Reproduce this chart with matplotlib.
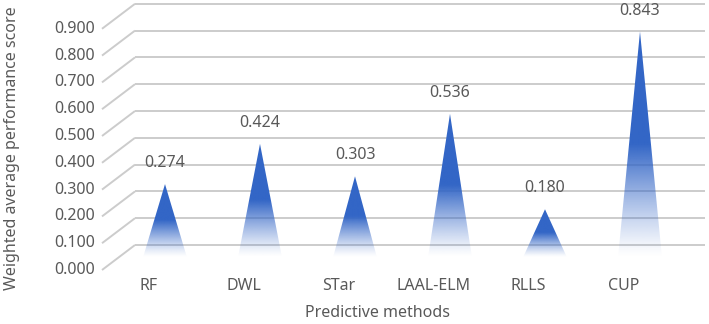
import numpy as np
import matplotlib
matplotlib.use("Agg")
import matplotlib.pyplot as plt
from matplotlib.patches import Polygon

# ---- data ----
categories = ["RF", "DWL", "STar", "LAAL-ELM", "RLLS", "CUP"]
values = [0.274, 0.424, 0.303, 0.536, 0.180, 0.843]
y_ticks = [0.0, 0.1, 0.2, 0.3, 0.4, 0.5, 0.6, 0.7, 0.8, 0.9]
y_tick_labels = ["%.3f" % t for t in y_ticks]
x_title = "Predictive methods"
y_title = "Weighted average performance score"

plt.rcParams['font.family'] = ['Noto Sans', 'DejaVu Sans']
TXT = "#595959"
GRID = "#cccccc"
BLUE = np.array([0.20, 0.40, 0.78])
FS = 11.5

W, H = 709, 324
fig = plt.figure(figsize=(W / 100, H / 100), dpi=100)
ax = fig.add_axes([0, 0, 1, 1])
x0, dxp = 165.0, 95.0
y0, dyp = 257.5, 268.0
ax.set_xlim((0 - x0) / dxp, (W - x0) / dxp)
ax.set_ylim((y0 - H) / dyp, (y0 - 0) / dyp)
ax.axis('off')

ddx = 16.5 / dxp   # depth offset (half)
ddy = 12.5 / dyp
front_left = (102 - x0) / dxp
right_end = (705 - x0) / dxp

# grid lines (perspective)
for t, lab in zip(y_ticks, y_tick_labels):
    ax.plot([front_left, front_left + 2 * ddx], [t - ddy, t + ddy], color=GRID, lw=1.4,
            solid_capstyle='butt', zorder=1)
    ax.plot([front_left + 2 * ddx, right_end], [t + ddy, t + ddy], color=GRID, lw=1.4,
            solid_capstyle='butt', zorder=1)
    ax.text(front_left - 7 / dxp, t - ddy, lab, ha='right', va='center', fontsize=FS, color=TXT)

# cones with gradient fill
half_w = 22 / dxp
for i, (c, v) in enumerate(zip(categories, values)):
    n = 256
    frac = np.linspace(0, 1, n)[:, None]  # 0 at bottom, 1 at top
    alpha = np.clip(frac / 0.5, 0, 1) ** 1.2
    img = np.zeros((n, 2, 4))
    img[..., :3] = BLUE
    img[..., 3] = alpha
    im = ax.imshow(img, origin='lower', extent=(i - half_w, i + half_w, 0, v),
                   aspect='auto', interpolation='bilinear', zorder=3)
    poly = Polygon([(i - half_w, 0), (i + half_w, 0), (i, v)], closed=True,
                   facecolor='none', edgecolor='none', transform=ax.transData)
    ax.add_patch(poly)
    im.set_clip_path(poly)
    ax.text(i, v + 21 / dyp, "%.3f" % v, ha='center', va='center', fontsize=FS, color=TXT, zorder=4)
    ax.text(i - ddx, -ddy - 16 / dyp, c, ha='center', va='center', fontsize=FS, color=TXT)

ax.set_xlim((0 - x0) / dxp, (W - x0) / dxp)
ax.set_ylim((y0 - H) / dyp, (y0 - 0) / dyp)

fig.text(12 / W, 1 - 148 / H, y_title, rotation=90, ha='center', va='center', fontsize=FS, color=TXT)
fig.text(378 / W, 1 - 313 / H, x_title, ha='center', va='center', fontsize=FS, color=TXT)

fig.savefig("out.png", dpi=100)
